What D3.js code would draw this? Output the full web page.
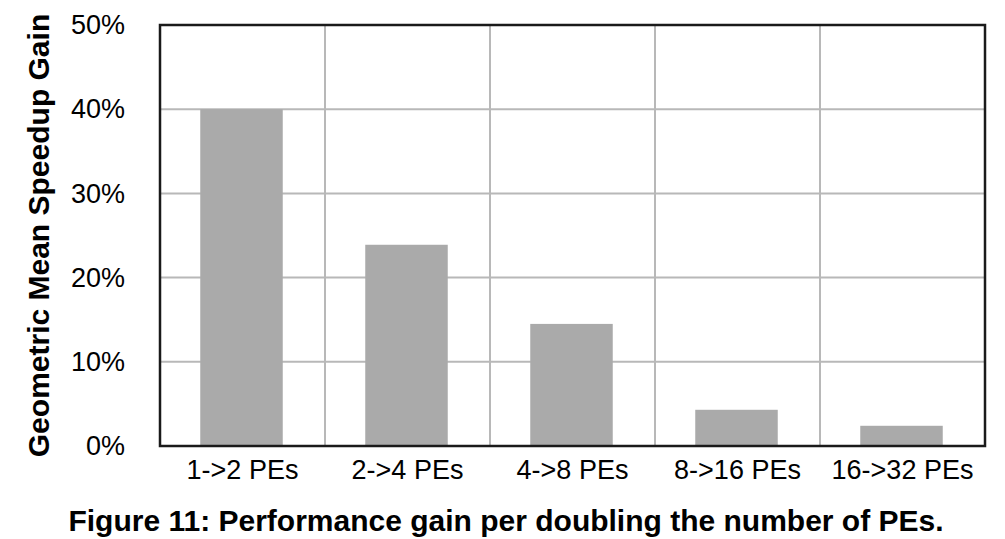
<!DOCTYPE html>
<html>
<head>
<meta charset="utf-8">
<script src="https://cdn.jsdelivr.net/npm/d3@7"></script>
<style>
  body { margin: 0; background: #fff; }
  svg { display: block; }
  text { font-family: "Liberation Sans", Arial, sans-serif; fill: #000; }
</style>
</head>
<body>
<svg id="chart" width="1005" height="539"></svg>
<script>
const categories = ["1->2 PEs", "2->4 PEs", "4->8 PEs", "8->16 PEs", "16->32 PEs"];
const gains = [0.40, 0.239, 0.145, 0.043, 0.024];
const yTicks = [0, 0.1, 0.2, 0.3, 0.4, 0.5];
const yLabel = "Geometric Mean Speedup Gain";
const caption = "Figure 11: Performance gain per doubling the number of PEs.";

const svg = d3.select("#chart");
const pL = 160, pR = 985, pT = 25, pB = 446;

const x = d3.scaleBand().domain(categories).range([pL, pR])
  .paddingInner(0.5).paddingOuter(0.25);
const y = d3.scaleLinear().domain([0, 0.5]).range([pB, pT]);

const grid = svg.append("g");
grid.selectAll("line.h").data(yTicks).join("line")
  .attr("x1", pL).attr("x2", pR)
  .attr("y1", d => y(d)).attr("y2", d => y(d))
  .attr("stroke", "#b8b8b8").attr("stroke-width", 2);
const step = x.step();
const gap = (step - x.bandwidth()) / 2;
grid.selectAll("line.v").data(categories.slice(0, -1)).join("line")
  .attr("x1", d => x(d) + x.bandwidth() + gap)
  .attr("x2", d => x(d) + x.bandwidth() + gap)
  .attr("y1", pT).attr("y2", pB)
  .attr("stroke", "#b8b8b8").attr("stroke-width", 2);

svg.append("g").selectAll("rect").data(categories).join("rect")
  .attr("x", d => x(d) - 1)
  .attr("width", x.bandwidth())
  .attr("y", (d, i) => y(gains[i]))
  .attr("height", (d, i) => y(0) - y(gains[i]))
  .attr("fill", "#aaaaaa");

svg.append("rect")
  .attr("x", pL).attr("y", pT)
  .attr("width", pR - pL).attr("height", pB - pT)
  .attr("fill", "none").attr("stroke", "#1a1a1a").attr("stroke-width", 2.5);

const yAxis = d3.axisLeft(y).tickValues(yTicks).tickFormat(d3.format(".0%"))
  .tickSize(0).tickPadding(35);
const ya = svg.append("g").attr("transform", `translate(${pL},0)`).call(yAxis);
ya.select(".domain").remove();
ya.selectAll("text").style("font-size", "27px")
  .style("font-family", "'Liberation Sans', Arial, sans-serif").attr("fill", "#000");

const xAxis = d3.axisBottom(x).tickSize(0).tickPadding(14);
const xa = svg.append("g").attr("transform", `translate(0,${pB})`).call(xAxis);
xa.select(".domain").remove();
xa.selectAll("text").style("font-size", "27px")
  .style("font-family", "'Liberation Sans', Arial, sans-serif").attr("fill", "#000");

svg.append("text")
  .attr("transform", `translate(49,${(pT + pB) / 2}) rotate(-90)`)
  .attr("text-anchor", "middle")
  .style("font-size", "30px").style("font-weight", "bold")
  .text(yLabel);

svg.append("text")
  .attr("x", 506).attr("y", 531)
  .attr("text-anchor", "middle")
  .style("font-size", "30px").style("font-weight", "bold")
  .text(caption);
</script>
</body>
</html>
